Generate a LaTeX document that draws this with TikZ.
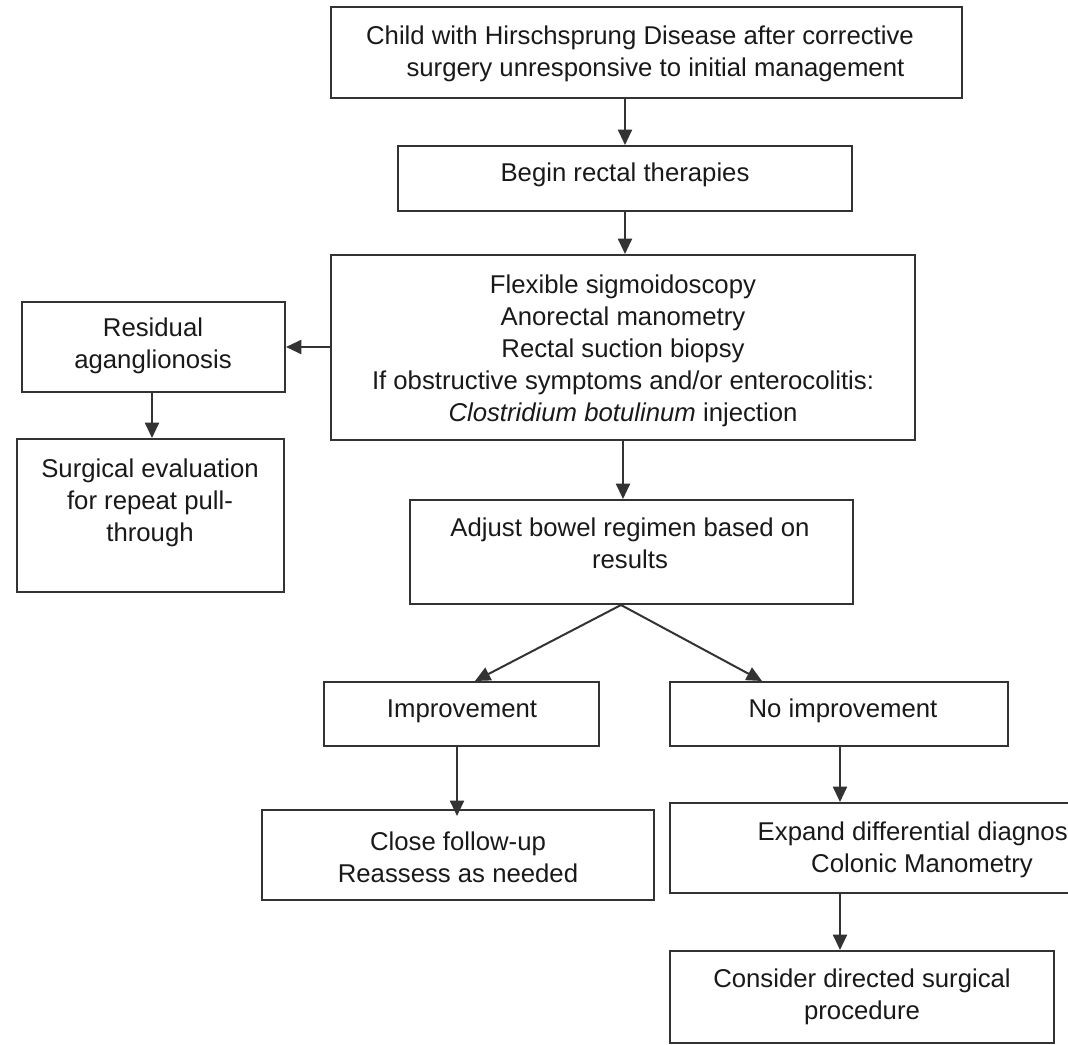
\documentclass[tikz,border=0pt]{standalone}
\usepackage{fontspec}
\setmainfont{Liberation Sans}
\usetikzlibrary{arrows.meta,calc}
\tikzset{
  box/.style={draw=black!80, line width=1.5pt, rectangle, inner sep=0pt},
  txt/.style={align=center, inner sep=0pt, font=\fontsize{19.3pt}{24pt}\selectfont, text=black!90},
  arr/.style={draw=black!80, line width=1.5pt, -{Triangle[length=11.5pt,width=10.5pt]}}
}
\begin{document}
\begin{tikzpicture}[x=0.75pt,y=-0.75pt]
\useasboundingbox (0,0) rectangle (1068,1045);
\clip (0,0) rectangle (1068,1045);
% boxes
\node[box, minimum width=631*0.75pt, minimum height=91*0.75pt] (top) at (646.5,52.5) {};
\node[box, minimum width=454*0.75pt, minimum height=65*0.75pt] (begin) at (625,178.5) {};
\node[box, minimum width=584*0.75pt, minimum height=185*0.75pt] (big) at (623,347.5) {};
\node[box, minimum width=263*0.75pt, minimum height=90*0.75pt] (res) at (153.5,347) {};
\node[box, minimum width=267*0.75pt, minimum height=153*0.75pt] (surg) at (150.5,515.5) {};
\node[box, minimum width=443*0.75pt, minimum height=104*0.75pt] (adj) at (631.5,552) {};
\node[box, minimum width=275*0.75pt, minimum height=64*0.75pt] (imp) at (461.5,714) {};
\node[box, minimum width=338*0.75pt, minimum height=64*0.75pt] (noimp) at (839,714) {};
\node[box, minimum width=392*0.75pt, minimum height=90*0.75pt] (close) at (458,855) {};
\node[box, minimum width=420*0.75pt, minimum height=90*0.75pt] (exp) at (880,848) {};
\node[box, minimum width=384*0.75pt, minimum height=92*0.75pt] (cons) at (862,997) {};
% texts
\node[txt] (topt) at (640,54) {Child with Hirschsprung Disease after corrective\\\hspace*{1.2em}surgery unresponsive to initial management};
\node[txt] (begint) at (625,175) {Begin rectal therapies};
\node[txt] (bigt) at (623,351) {Flexible sigmoidoscopy\\Anorectal manometry\\Rectal suction biopsy\\If obstructive symptoms and/or enterocolitis:\\\textit{Clostridium botulinum} injection};
\node[txt] (rest) at (153,346) {Residual\\aganglionosis};
\node[txt] (surgt) at (150,503) {Surgical evaluation\\for repeat pull-\\through};
\node[txt] (adjt) at (630,543) {Adjust bowel regimen based on\\results};
\node[txt] (impt) at (462,711) {Improvement};
\node[txt] (noimpt) at (843,711) {No improvement};
\node[txt] (closet) at (458,857) {Close follow-up\\Reassess as needed};
\node[txt] (expt) at (922,850) {Expand differential diagnosis\\Colonic Manometry};
\node[txt] (const) at (862,997) {Consider directed surgical\\procedure};
% connectors
\draw[arr] (begin.north |- top.south) -- (begin.north);
\draw[arr] (begin.south) -- (begin.south |- big.north);
\draw[arr] (big.west |- res.east) -- (res.east);
\draw[arr] (res.south -| 152,0) -- (surg.north -| 152,0);
\draw[arr] (big.south) -- (big.south |- adj.north);
\draw[arr] ($(adj.south west)+(212,0)$) -- ($(imp.north west)+(152,0)$);
\draw[arr] ($(adj.south west)+(212,0)$) -- ($(noimp.north west)+(93,0)$);
\draw[arr] (imp.south -| 457,0) -- ($(close.north -| 457,0)+(0,7)$);
\draw[arr] (noimp.south -| 840,0) -- (exp.north -| 840,0);
\draw[arr] (exp.south -| 840,0) -- (cons.north -| 840,0);
\end{tikzpicture}
\end{document}
